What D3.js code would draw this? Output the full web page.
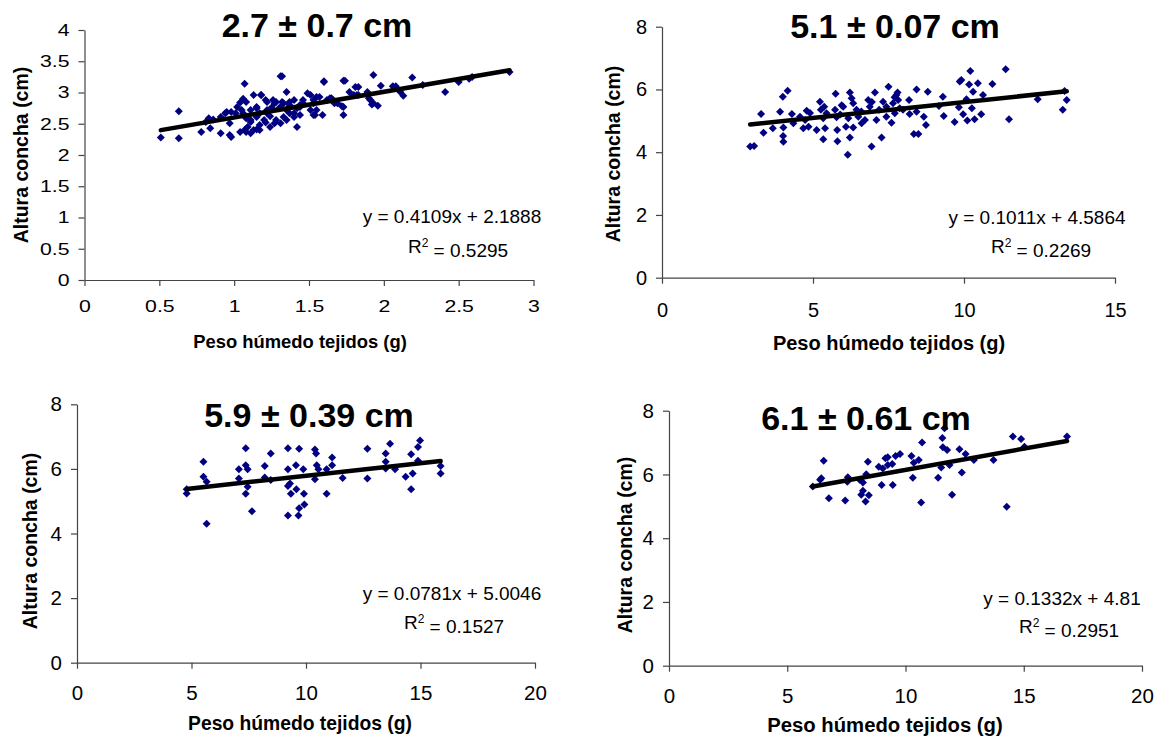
<!DOCTYPE html>
<html>
<head>
<meta charset="utf-8">
<script src="https://d3js.org/d3.v7.min.js"></script>
<style>
  body { margin: 0; background: #fff; }
  text { font-family: Arial, "Liberation Sans", sans-serif; fill: #000; }
</style>
</head>
<body>
<svg id="chart" width="1159" height="738"></svg>
<script>
  // ---- data ----
  const titles = ["2.7 ± 0.7 cm", "5.1 ± 0.07 cm", "5.9 ± 0.39 cm", "6.1 ± 0.61 cm"];
  const xLabel = "Peso húmedo tejidos (g)";
  const yLabel = "Altura concha (cm)";

  const slopes = [0.4109, 0.1011, 0.0781, 0.1332];
  const intercepts = ["2.1888", "4.5864", "5.0046", "4.81"];
  const r2 = ["0.5295", "0.2269", "0.1527", "0.2951"];

  const xTicksA = [0, 0.5, 1, 1.5, 2, 2.5, 3];
  const yTicksA = [0, 0.5, 1, 1.5, 2, 2.5, 3, 3.5, 4];
  const xTicksB = [0, 5, 10, 15];
  const xTicksC = [0, 5, 10, 15, 20];
  const yTicksB = [0, 2, 4, 6, 8];

  const pts1 = [
    [0.51,2.28],[0.63,2.70],[0.63,2.27],[0.78,2.37],[0.81,2.53],[0.83,2.59],[0.84,2.43],[0.86,2.57],
    [0.91,2.35],[0.91,2.61],[0.94,2.67],[0.95,2.69],[0.97,2.51],[0.97,2.32],[0.98,2.29],[0.98,2.69],
    [1.01,2.67],[1.02,2.77],[1.04,2.84],[1.05,2.72],[1.07,3.14],[1.04,2.37],[1.07,2.40],[1.09,2.45],
    [1.11,2.53],[1.08,2.59],[1.13,2.96],[1.15,2.77],[1.18,2.96],[1.21,2.88],[1.17,2.67],[1.22,2.72],
    [1.11,2.35],[1.15,2.41],[1.17,2.48],[1.21,2.52],[1.24,2.45],[1.27,2.51],[1.24,2.62],[1.27,2.83],
    [1.30,2.75],[1.32,2.85],[1.35,3.01],[1.32,3.26],[1.35,2.72],[1.37,2.85],[1.40,2.67],[1.42,2.45],
    [1.44,2.80],[1.46,2.88],[1.49,2.99],[1.51,2.96],[1.53,2.83],[1.55,2.72],[1.57,2.93],[1.60,3.17],
    [1.54,2.64],[1.59,2.64],[1.62,2.88],[1.65,2.91],[1.67,2.83],[1.73,3.19],[1.93,3.28],[1.98,3.11],
    [2.08,3.10],[2.11,3.01],[2.13,2.95],[2.19,3.24],[2.26,3.12],[2.41,3.01],[2.50,3.17],[2.57,3.22],
    [2.59,3.25],[2.84,3.33],[1.73,2.77],[1.73,2.64],[1.64,2.91],[1.77,3.01],[1.81,3.09],[1.83,3.09],
    [1.80,2.96],[1.83,2.96],[1.90,2.91],[1.92,2.81],[1.96,2.79],[1.89,3.01],[1.72,2.78],[1.60,3.18],
    [1.74,3.19],[1.31,3.26],[1.18,2.96],[1.22,2.85],[1.26,2.88],[1.31,2.77],[1.40,2.88],[1.44,2.77],
    [1.53,2.88],[1.55,2.93],[1.66,2.88],[1.69,2.83],[1.08,2.85],[1.11,2.72],[1.15,2.61],[1.20,2.56],
    [1.28,2.56],[1.33,2.61],[1.37,2.67],[1.31,2.51],[1.35,2.56],[1.17,2.40],[1.13,2.40],[1.08,2.37],
    [1.06,2.90],[1.06,2.67],[1.11,2.56],[1.15,2.75],[1.22,2.67],[1.25,2.76],[1.28,2.85],[1.33,2.83],
    [1.37,2.80],[1.42,2.75],[1.46,2.83],[1.51,2.72],[1.40,2.61],[1.44,2.64],[1.53,2.64],[1.82,2.96],
    [1.91,2.88],[1.93,2.83],[2.06,3.10]
  ];

  const pts2 = [
    [2.92,4.18],[3.05,4.20],[3.28,5.22],[3.36,4.62],[3.67,4.76],[3.91,5.29],[4.00,5.77],[4.02,4.79],
    [4.01,4.52],[4.02,4.33],[4.16,5.96],[4.30,5.22],[4.35,4.92],[4.57,5.13],[4.68,4.76],[4.79,5.32],
    [4.85,4.81],[4.74,5.03],[5.12,4.71],[5.23,5.61],[5.26,5.35],[5.34,5.08],[5.40,4.76],[5.34,4.41],
    [5.37,5.45],[5.45,5.24],[5.73,5.35],[5.75,5.86],[5.78,5.11],[5.80,4.71],[5.81,4.35],[5.95,5.50],
    [6.00,5.45],[6.09,4.81],[6.15,3.92],[6.17,5.08],[6.22,4.47],[6.22,5.90],[6.28,5.72],[6.33,5.56],
    [6.33,4.79],[6.44,5.35],[6.50,5.13],[6.61,4.92],[6.72,5.03],[6.83,5.66],[6.94,4.18],[6.88,5.45],
    [7.05,5.90],[7.10,5.03],[7.19,5.35],[7.27,4.47],[7.32,5.61],[7.43,5.13],[7.50,6.09],[7.43,5.45],
    [7.60,4.94],[7.65,5.56],[7.71,5.24],[7.76,5.82],[7.82,5.66],[7.87,5.40],[7.98,5.35],[8.18,5.66],
    [8.20,5.22],[8.34,4.58],[8.43,6.00],[8.43,5.29],[8.49,4.58],[8.67,5.13],[8.74,4.87],[8.80,5.93],
    [9.17,5.47],[9.30,5.77],[9.33,5.15],[9.69,4.96],[9.83,5.43],[9.86,6.25],[9.91,6.30],[9.97,5.21],
    [10.08,5.69],[10.11,5.01],[10.17,6.16],[10.21,6.59],[10.26,5.40],[10.30,5.93],[10.35,5.05],[10.46,6.20],
    [10.57,5.21],[10.63,5.82],[10.94,6.17],[11.38,6.64],[11.49,5.05],[12.44,5.69],[13.27,5.35],[13.33,5.95],
    [13.40,5.66],[7.70,5.75],[7.80,5.90],[6.60,5.30],[5.90,5.20],[4.90,5.25],[6.95,5.60]
  ];

  const pts3 = [
    [4.79,5.24],[4.79,5.37],[5.52,6.22],[5.52,5.76],[5.66,5.60],[5.66,4.30],[7.07,5.99],[7.07,5.70],
    [7.37,6.64],[7.37,6.11],[7.37,5.23],[7.45,5.99],[7.45,5.45],[7.64,4.69],[8.20,6.09],[8.20,5.73],
    [8.46,6.48],[8.46,5.66],[9.21,6.64],[9.21,5.99],[9.21,5.47],[9.21,4.56],[9.30,5.55],[9.34,5.23],
    [9.56,6.11],[9.58,5.37],[9.70,6.62],[9.67,4.56],[9.70,4.78],[9.88,5.99],[9.91,5.23],[9.93,4.90],
    [10.39,6.60],[10.44,6.48],[10.39,5.68],[10.47,6.11],[10.54,5.99],[10.90,5.99],[10.90,5.23],[11.14,6.35],
    [11.14,6.11],[11.60,5.72],[12.68,6.62],[12.68,5.70],[13.48,6.48],[13.48,6.22],[13.48,6.01],[13.67,6.78],
    [13.89,5.99],[14.35,5.76],[14.59,6.45],[14.59,5.37],[14.66,5.86],[14.89,6.68],[14.89,6.25],[14.98,6.88],
    [15.88,6.09],[15.88,5.86]
  ];

  const pts4 = [
    [6.08,5.62],[6.39,5.83],[6.44,5.88],[6.54,6.43],[6.76,5.25],[7.45,5.18],[7.54,5.77],[7.56,5.91],
    [8.06,5.83],[8.13,5.36],[8.20,5.49],[8.20,5.75],[8.31,5.15],[8.34,6.01],[8.41,6.40],[8.45,5.35],
    [8.87,6.24],[8.99,5.67],[9.04,6.19],[9.15,6.51],[9.25,6.54],[9.25,6.30],[9.44,6.33],[9.46,5.67],
    [9.58,6.58],[9.77,6.64],[10.25,6.58],[10.31,5.90],[10.35,6.37],[10.56,6.45],[10.66,5.12],[10.70,7.00],
    [11.38,5.90],[11.51,6.22],[11.56,7.14],[11.58,6.85],[11.65,7.45],[11.76,6.77],[11.86,6.30],[11.97,5.36],
    [12.28,6.79],[12.38,6.06],[12.54,6.64],[12.89,6.45],[13.72,6.45],[14.28,4.99],[14.54,7.19],[14.89,7.11],
    [15.03,6.87],[16.83,7.19]
  ];

  // ---- layout of the four panels ----
  // sx: horizontal stretch of the tick labels (the first panel was widened in the original)
  const panels = [
    { pts: pts1, xd: [0, 3], yd: [0, 4], xt: xTicksA, yt: yTicksA,
      l: 84.5, r: 533.5, t: 30, b: 280, tick: 17, sx: 1.25, padX: 14, padY: 6,
      titleX: 317, titleY: 37, ytX: 21, ytY: 155, xtX: 300, xtY: 348, xtSize: 18.4,
      eqX: 452, eqY: 223, rX: 458, rY: 253 },
    { pts: pts2, xd: [0, 15], yd: [0, 8], xt: xTicksB, yt: yTicksB,
      l: 662, r: 1115, t: 26.7, b: 277.7, tick: 20, sx: 1, padX: 19, padY: 9,
      titleX: 895, titleY: 38, ytX: 613, ytY: 154, xtX: 889, xtY: 350, xtSize: 20,
      eqX: 1037, eqY: 224, rX: 1041, rY: 253 },
    { pts: pts3, xd: [0, 20], yd: [0, 8], xt: xTicksC, yt: yTicksB,
      l: 77, r: 535, t: 404.3, b: 662.7, tick: 20.5, sx: 1, padX: 17, padY: 9,
      titleX: 309, titleY: 427, ytX: 30, ytY: 541, xtX: 300, xtY: 730, xtSize: 19.3,
      eqX: 452, eqY: 600, rX: 454, rY: 629 },
    { pts: pts4, xd: [0, 20], yd: [0, 8], xt: xTicksC, yt: yTicksB,
      l: 669, r: 1142, t: 410.7, b: 665.7, tick: 20.5, sx: 1, padX: 17, padY: 9,
      titleX: 866, titleY: 430, ytX: 625, ytY: 545, xtX: 885, xtY: 732, xtSize: 20.3,
      eqX: 1062, eqY: 605, rX: 1069, rY: 633 }
  ];

  const svg = d3.select("#chart");

  panels.forEach(function (p, i) {
    const x = d3.scaleLinear().domain(p.xd).range([p.l, p.r]);
    const y = d3.scaleLinear().domain(p.yd).range([p.b, p.t]);
    const g = svg.append("g");

    // axes
    const ax = g.append("g")
      .attr("transform", `translate(0,${p.b})`)
      .call(d3.axisBottom(x).tickValues(p.xt).tickFormat(d3.format("")).tickSize(6).tickPadding(p.padX).tickSizeOuter(0));
    const ay = g.append("g")
      .attr("transform", `translate(${p.l},0)`)
      .call(d3.axisLeft(y).tickValues(p.yt).tickFormat(d3.format("")).tickSize(6).tickPadding(p.padY).tickSizeOuter(0));
    [ax, ay].forEach(function (a) {
      a.selectAll("path, line").attr("stroke", "#444").attr("stroke-width", 1.2);
      a.selectAll("text").style("font-size", p.tick + "px").attr("fill", "#000")
        .style("font-family", "Arial, 'Liberation Sans', sans-serif")
        .attr("transform", `scale(${p.sx},1)`);
    });

    // points
    const s = 4;
    g.append("g").selectAll("path")
      .data(p.pts)
      .enter().append("path")
      .attr("d", d => `M${x(d[0])},${y(d[1]) - s}L${x(d[0]) + s},${y(d[1])}L${x(d[0])},${y(d[1]) + s}L${x(d[0]) - s},${y(d[1])}Z`)
      .attr("fill", "#000080");

    // linear trend line across the data range
    const ext = d3.extent(p.pts, d => d[0]);
    const fx = v => slopes[i] * v + (+intercepts[i]);
    g.append("line")
      .attr("x1", x(ext[0])).attr("y1", y(fx(ext[0])))
      .attr("x2", x(ext[1])).attr("y2", y(fx(ext[1])))
      .attr("stroke", "#000").attr("stroke-width", 4.5).attr("stroke-linecap", "round");

    // title
    g.append("text")
      .attr("x", p.titleX).attr("y", p.titleY)
      .attr("text-anchor", "middle")
      .style("font-size", "34px").style("font-weight", "bold")
      .text(titles[i]);

    // axis titles
    g.append("text")
      .attr("x", p.xtX).attr("y", p.xtY)
      .attr("text-anchor", "middle")
      .style("font-size", p.xtSize + "px").style("font-weight", "bold")
      .text(xLabel);
    g.append("text")
      .attr("transform", `translate(${p.ytX},${p.ytY}) rotate(-90)`)
      .attr("text-anchor", "middle").attr("dy", "0.35em")
      .style("font-size", "19.5px").style("font-weight", "bold")
      .text(yLabel);

    // equation and R²
    g.append("text")
      .attr("x", p.eqX).attr("y", p.eqY)
      .attr("text-anchor", "middle")
      .style("font-size", "19px")
      .text(`y = ${slopes[i]}x + ${intercepts[i]}`);
    const rt = g.append("text")
      .attr("x", p.rX).attr("y", p.rY)
      .attr("text-anchor", "middle")
      .style("font-size", "19px");
    rt.append("tspan").text("R");
    rt.append("tspan").attr("dy", "-0.5em").style("font-size", "12px").text("2");
    rt.append("tspan").attr("dy", "0.5em").text(" = " + r2[i]);
  });
</script>
</body>
</html>
